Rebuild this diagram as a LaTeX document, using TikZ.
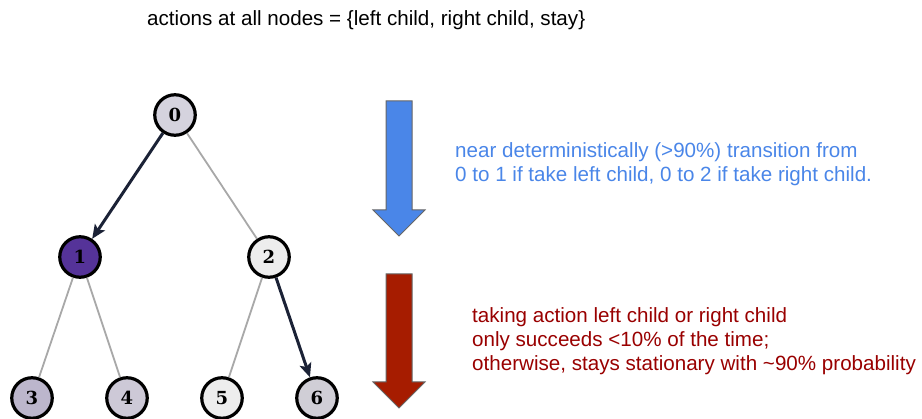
\documentclass[tikz,border=0pt]{standalone}
\usepackage{fontspec}
\setmainfont{Liberation Sans}
\newfontfamily\nodefont{DejaVu Serif}
\usetikzlibrary{arrows.meta}
\definecolor{bluearrow}{HTML}{4A86E8}
\definecolor{bluetext}{HTML}{4A86E8}
\definecolor{redarrow}{HTML}{A61C00}
\definecolor{redtext}{HTML}{990000}
\definecolor{edgedark}{HTML}{1B2236}
\definecolor{edgegrey}{HTML}{A8A8A8}
\definecolor{fzero}{HTML}{D5D3DE}
\definecolor{fone}{HTML}{553399}
\definecolor{ftwo}{HTML}{EDEDED}
\definecolor{fthree}{HTML}{BCB6CC}
\definecolor{ffour}{HTML}{CDC9D7}
\definecolor{ffive}{HTML}{EDEDED}
\definecolor{fsix}{HTML}{D0CED6}
\tikzset{
  treenode/.style={circle, draw=black, line width=3.2pt, minimum size=40.5pt, inner sep=0pt,
    font=\nodefont\bfseries\fontsize{18}{18}\selectfont},
  greyedge/.style={draw=edgegrey, line width=1.8pt},
  darkedge/.style={draw=edgedark, line width=3pt, -{Stealth[length=14pt,width=12pt,inset=3pt]}},
  blockarrow/.style={draw=black!60, line width=1pt},
  labeltext/.style={anchor=north west, inner sep=0pt, align=left, font=\fontsize{20.6}{24}\selectfont},
}
\begin{document}
\begin{tikzpicture}[x=1pt,y=-1pt]
\useasboundingbox (0,0) rectangle (922,419);
% title
\node[anchor=base west, inner sep=0pt, font=\fontsize{20.6}{24}\selectfont] (title) at (147,26)
  {actions at all nodes = \{left child, right child, stay\}};
% tree
\node[treenode, fill=fzero] (n0) at (175,115) {0};
\node[treenode, fill=fone] (n1) at (80,257) {1};
\node[treenode, fill=ftwo] (n2) at (269,257) {2};
\node[treenode, fill=fthree] (n3) at (32,398) {3};
\node[treenode, fill=ffour] (n4) at (127,398) {4};
\node[treenode, fill=ffive] (n5) at (222,398) {5};
\node[treenode, fill=fsix] (n6) at (317,398) {6};
\path[greyedge] (n0) -- (n2);
\path[greyedge] (n1) -- (n3);
\path[greyedge] (n1) -- (n4);
\path[greyedge] (n2) -- (n5);
\path[darkedge] (n0) -- (n1);
\path[darkedge] (n2) -- (n6);
% block arrows
\draw[blockarrow, fill=bluearrow] (386,101) -- (412,101) -- (412,210) -- (425,210) -- (399,236)
  -- (373,210) -- (386,210) -- cycle;
\draw[blockarrow, fill=redarrow] (386,274) -- (412,274) -- (412,382) -- (425,382) -- (399,408)
  -- (373,382) -- (386,382) -- cycle;
% descriptions
\node[labeltext, text=bluetext] (bluelabel) at (455,142)
  {near deterministically (>90\%) transition from\\0 to 1 if take left child, 0 to 2 if take right child.};
\node[labeltext, text=redtext] (redlabel) at (472,307)
  {taking action left child or right child\\only succeeds <10\% of the time;\\otherwise, stays stationary with \textasciitilde 90\% probability};
\end{tikzpicture}
\end{document}
